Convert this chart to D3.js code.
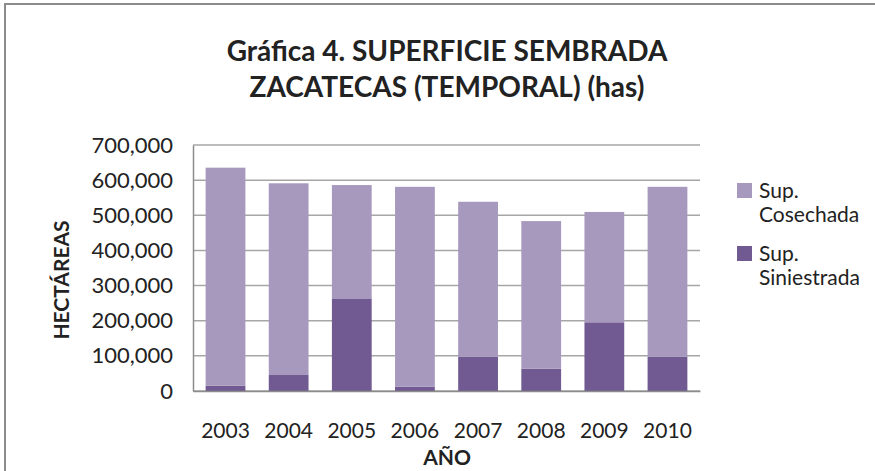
<!DOCTYPE html>
<html>
<head>
<meta charset="utf-8">
<script src="https://cdn.jsdelivr.net/npm/d3@7"></script>
<style>
  body { margin: 0; background: #fff; }
  text { font-family: Lato, "Open Sans", sans-serif; fill: #222; }
</style>
</head>
<body>
<div id="container"></div>
<script>
const years = ["2003", "2004", "2005", "2006", "2007", "2008", "2009", "2010"];
const siniestrada = [15000, 45500, 263500, 12500, 97500, 63500, 195500, 97500];
const cosechada = [620500, 545500, 322500, 568500, 441000, 420000, 314000, 483500];
const yTicks = [0, 100000, 200000, 300000, 400000, 500000, 600000, 700000];

const width = 875, height = 471;
const margin = { top: 145, right: 175, bottom: 80, left: 193 };
const wid = width - margin.left - margin.right;
const hei = height - margin.top - margin.bottom;

const svg = d3.select("#container")
  .append("svg")
  .attr("width", width)
  .attr("height", height);

// chart border
svg.append("rect")
  .attr("x", 5).attr("y", 4)
  .attr("width", width + 10).attr("height", height + 10)
  .attr("fill", "none").attr("stroke", "#8c8c8c").attr("stroke-width", 2);

// title
const title = svg.append("text")
  .attr("text-anchor", "middle")
  .style("font-weight", "bold")
  .style("font-size", "28px");
title.append("tspan").attr("x", 447).attr("y", 61).text("Gráfica 4. SUPERFICIE SEMBRADA");
title.append("tspan").attr("x", 447).attr("y", 97).text("ZACATECAS (TEMPORAL) (has)");

const g = svg.append("g")
  .attr("transform", `translate(${margin.left},${margin.top})`);

const x = d3.scaleBand().domain(years).range([0, wid]).paddingInner(0.37).paddingOuter(0.2);
const y = d3.scaleLinear().domain([0, 700000]).range([hei, 0]);

// gridlines
g.append("g")
  .selectAll("line")
  .data(yTicks)
  .join("line")
  .attr("x1", 0).attr("x2", wid)
  .attr("y1", d => y(d)).attr("y2", d => y(d))
  .attr("stroke", "#a6a6a6").attr("stroke-width", 1.5);

// stacked bars
const rows = years.map((yr, i) => ({ year: yr, sin: siniestrada[i], cos: cosechada[i] }));
const stack = d3.stack().keys(["sin", "cos"])(rows);
const colors = { sin: "#705a91", cos: "#a798bd" };

g.append("g")
  .selectAll("g")
  .data(stack)
  .join("g")
  .attr("fill", d => colors[d.key])
  .selectAll("rect")
  .data(d => d)
  .join("rect")
  .attr("x", d => x(d.data.year))
  .attr("width", x.bandwidth())
  .attr("y", d => y(d[1]))
  .attr("height", d => y(d[0]) - y(d[1]));

// axes
const yAxis = g.append("g")
  .call(d3.axisLeft(y).tickValues(yTicks).tickSize(0).tickPadding(20)
    .tickFormat(d3.format(",")));
yAxis.select(".domain").attr("stroke", "#8c8c8c").attr("stroke-width", 1.5);
yAxis.selectAll("text").style("font-size", "22px").attr("fill", "#222");

const xAxis = g.append("g")
  .attr("transform", `translate(0,${hei})`)
  .call(d3.axisBottom(x).tickSize(0).tickPadding(32));
xAxis.select(".domain").attr("stroke", "#8c8c8c").attr("stroke-width", 1.5);
xAxis.selectAll("text").style("font-size", "21px").attr("fill", "#222");

// axis titles
svg.append("text")
  .attr("transform", "translate(69,280) rotate(-90)")
  .attr("text-anchor", "middle")
  .style("font-weight", "bold")
  .style("font-size", "21px")
  .text("HECTÁREAS");

svg.append("text")
  .attr("x", 447).attr("y", 465)
  .attr("text-anchor", "middle")
  .style("font-weight", "bold")
  .style("font-size", "21px")
  .text("AÑO");

// legend
const legend = svg.append("g").attr("transform", "translate(737,183)");
const legendItems = [
  { key: "cos", words: ["Sup.", "Cosechada"] },
  { key: "sin", words: ["Sup.", "Siniestrada"] }
];
const item = legend.selectAll("g")
  .data(legendItems)
  .join("g")
  .attr("transform", (d, i) => `translate(0,${i * 63})`);
item.append("rect")
  .attr("width", 15).attr("height", 15)
  .attr("fill", d => colors[d.key]);
item.append("text")
  .style("font-size", "21px")
  .selectAll("tspan")
  .data(d => d.words)
  .join("tspan")
  .attr("x", 22)
  .attr("y", (d, i) => 15 + i * 24)
  .text(d => d);
</script>
</body>
</html>
